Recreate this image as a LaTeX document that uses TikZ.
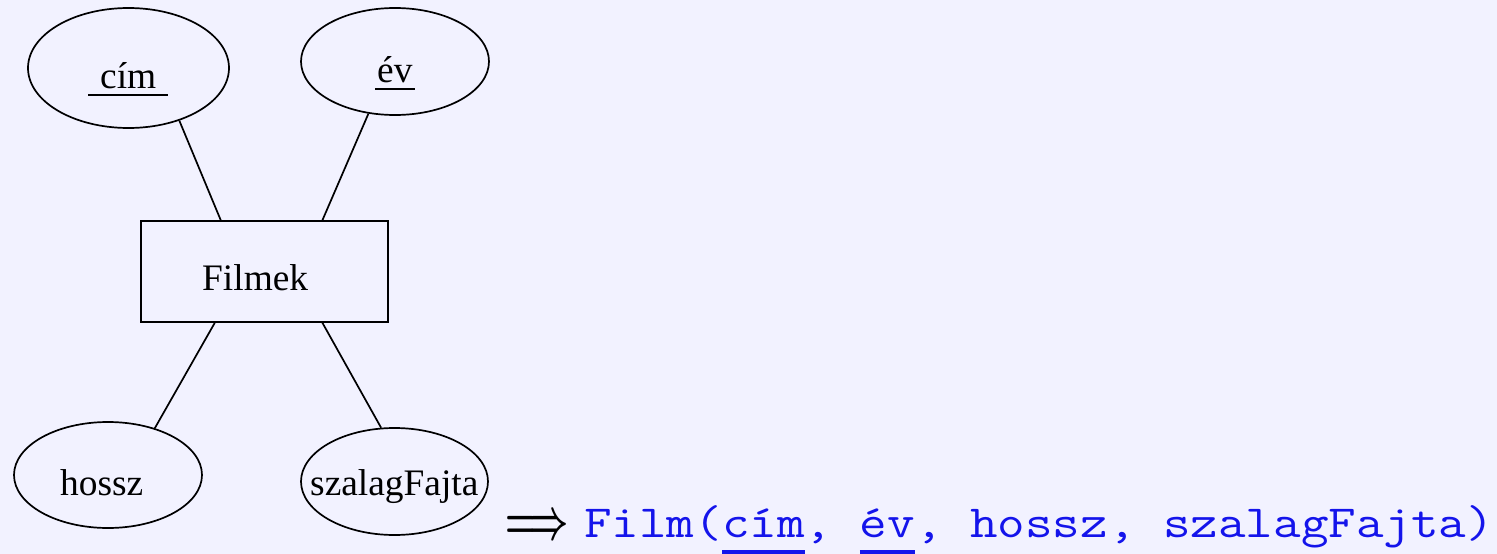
\documentclass[tikz,border=0pt]{standalone}
\usepackage{fontspec}
\usepackage{graphicx}
\setmainfont{Liberation Serif}
\newfontfamily\monof[FakeStretch=1.164]{Latin Modern Mono}
\usetikzlibrary{shapes.geometric,calc}
\definecolor{bgc}{RGB}{242,242,255}
\definecolor{relblue}{RGB}{20,20,235}
\newcommand\ulw[3]{\rlap{\hspace*{#1}\rule[-8pt]{#2}{2pt}}#3}
\newcommand\monoul[1]{\setbox0\hbox{#1}\rlap{\rule[-18pt]{\wd0}{5pt}}\box0}
\begin{document}
\begin{tikzpicture}[x=1pt,y=-1pt,
 attr/.style={draw,ellipse,line width=1.7pt,inner sep=0pt},
 ent/.style={draw,rectangle,line width=1.7pt,inner sep=0pt},
 lbl/.style={anchor=base west,inner sep=0pt,font=\fontsize{37.4}{40}\selectfont},
 conn/.style={line width=1.7pt}]
\fill[bgc] (0,0) rectangle (1497,554);
\useasboundingbox (0,0) rectangle (1497,554);
% shapes
\node[attr,minimum width=201pt,minimum height=120pt] (cim) at (128.5,68) {};
\node[attr,minimum width=188pt,minimum height=107pt] (ev) at (395,61.5) {};
\node[ent,minimum width=247pt,minimum height=101pt] (filmek) at (264.5,271.5) {};
\node[attr,minimum width=188pt,minimum height=106pt] (hossz) at (108,475) {};
\node[attr,minimum width=187pt,minimum height=107pt] (szalag) at (394.5,481.5) {};
% labels
\node[lbl] (cimt) at (100,88) {\ulw{-12pt}{80pt}{cím}};
\node[lbl] (evt) at (377,82) {\ulw{-2pt}{40pt}{év}};
\node[lbl] (filmekt) at (202,290) {Filmek};
\node[lbl] (hosszt) at (60,495) {hossz};
\node[lbl] (szalagt) at (310,495) {szalagFajta};
% connectors
\draw[conn] (cim.-46) -- ($(filmek.north west)!0.324!(filmek.north east)$);
\draw[conn] (ev.-117) -- ($(filmek.north west)!0.733!(filmek.north east)$);
\draw[conn] ($(filmek.south west)!0.30!(filmek.south east)$) -- (hossz.45);
\draw[conn] ($(filmek.south west)!0.733!(filmek.south east)$) -- (szalag.104);
% relation
\node[anchor=west,inner sep=0pt] (arrow) at (505,527) {\resizebox{63pt}{22pt}{\boldmath$\Longrightarrow$}};
\node[anchor=base west,inner sep=0pt,text=relblue,font=\monof\fontsize{46}{50}\selectfont] (rel) at (584,537)
 {Film(\monoul{cím}, \monoul{év}, hossz, szalagFajta)};
\end{tikzpicture}
\end{document}
